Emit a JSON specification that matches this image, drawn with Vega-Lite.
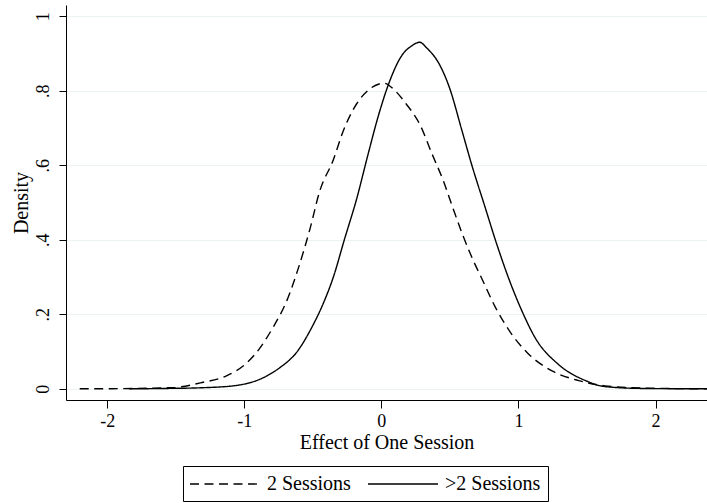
{
  "$schema": "https://vega.github.io/schema/vega-lite/v6.json",
  "width": 641,
  "height": 395,
  "autosize": "none",
  "padding": {"left": 66, "top": 5, "right": 0, "bottom": 103},
  "background": "white",
  "config": {
    "view": {"stroke": null},
    "font": "Liberation Serif"
  },
  "data": {
    "values": [
      {"x": -2.2, "y": 0.0, "s": "2 Sessions"},
      {"x": -1.8, "y": 0.001, "s": "2 Sessions"},
      {"x": -1.5, "y": 0.004, "s": "2 Sessions"},
      {"x": -1.32, "y": 0.016, "s": "2 Sessions"},
      {"x": -1.13, "y": 0.035, "s": "2 Sessions"},
      {"x": -0.98, "y": 0.07, "s": "2 Sessions"},
      {"x": -0.885, "y": 0.11, "s": "2 Sessions"},
      {"x": -0.79, "y": 0.165, "s": "2 Sessions"},
      {"x": -0.69, "y": 0.236, "s": "2 Sessions"},
      {"x": -0.6, "y": 0.33, "s": "2 Sessions"},
      {"x": -0.52, "y": 0.43, "s": "2 Sessions"},
      {"x": -0.45, "y": 0.53, "s": "2 Sessions"},
      {"x": -0.35, "y": 0.615, "s": "2 Sessions"},
      {"x": -0.28, "y": 0.69, "s": "2 Sessions"},
      {"x": -0.18, "y": 0.765, "s": "2 Sessions"},
      {"x": -0.1, "y": 0.80, "s": "2 Sessions"},
      {"x": 0.02, "y": 0.82, "s": "2 Sessions"},
      {"x": 0.1, "y": 0.80, "s": "2 Sessions"},
      {"x": 0.18, "y": 0.765, "s": "2 Sessions"},
      {"x": 0.28, "y": 0.71, "s": "2 Sessions"},
      {"x": 0.37, "y": 0.63, "s": "2 Sessions"},
      {"x": 0.45, "y": 0.56, "s": "2 Sessions"},
      {"x": 0.52, "y": 0.487, "s": "2 Sessions"},
      {"x": 0.59, "y": 0.416, "s": "2 Sessions"},
      {"x": 0.66, "y": 0.353, "s": "2 Sessions"},
      {"x": 0.74, "y": 0.29, "s": "2 Sessions"},
      {"x": 0.83, "y": 0.22, "s": "2 Sessions"},
      {"x": 0.95, "y": 0.147, "s": "2 Sessions"},
      {"x": 1.075, "y": 0.093, "s": "2 Sessions"},
      {"x": 1.245, "y": 0.048, "s": "2 Sessions"},
      {"x": 1.44, "y": 0.022, "s": "2 Sessions"},
      {"x": 1.63, "y": 0.008, "s": "2 Sessions"},
      {"x": 1.9, "y": 0.002, "s": "2 Sessions"},
      {"x": 2.375, "y": 0.0, "s": "2 Sessions"},
      {"x": -1.84, "y": 0.0, "s": ">2 Sessions"},
      {"x": -1.56, "y": 0.001, "s": ">2 Sessions"},
      {"x": -1.3, "y": 0.003, "s": ">2 Sessions"},
      {"x": -1.08, "y": 0.008, "s": ">2 Sessions"},
      {"x": -0.86, "y": 0.03, "s": ">2 Sessions"},
      {"x": -0.74, "y": 0.057, "s": ">2 Sessions"},
      {"x": -0.62, "y": 0.097, "s": ">2 Sessions"},
      {"x": -0.5, "y": 0.17, "s": ">2 Sessions"},
      {"x": -0.425, "y": 0.228, "s": ">2 Sessions"},
      {"x": -0.35, "y": 0.3, "s": ">2 Sessions"},
      {"x": -0.27, "y": 0.40, "s": ">2 Sessions"},
      {"x": -0.18, "y": 0.51, "s": ">2 Sessions"},
      {"x": -0.1, "y": 0.625, "s": ">2 Sessions"},
      {"x": -0.02, "y": 0.735, "s": ">2 Sessions"},
      {"x": 0.06, "y": 0.825, "s": ">2 Sessions"},
      {"x": 0.15, "y": 0.895, "s": ">2 Sessions"},
      {"x": 0.22, "y": 0.92, "s": ">2 Sessions"},
      {"x": 0.28, "y": 0.93, "s": ">2 Sessions"},
      {"x": 0.33, "y": 0.915, "s": ">2 Sessions"},
      {"x": 0.42, "y": 0.873, "s": ">2 Sessions"},
      {"x": 0.495, "y": 0.81, "s": ">2 Sessions"},
      {"x": 0.59, "y": 0.69, "s": ">2 Sessions"},
      {"x": 0.66, "y": 0.60, "s": ">2 Sessions"},
      {"x": 0.75, "y": 0.495, "s": ">2 Sessions"},
      {"x": 0.84, "y": 0.39, "s": ">2 Sessions"},
      {"x": 0.93, "y": 0.295, "s": ">2 Sessions"},
      {"x": 1.03, "y": 0.205, "s": ">2 Sessions"},
      {"x": 1.12, "y": 0.138, "s": ">2 Sessions"},
      {"x": 1.29, "y": 0.066, "s": ">2 Sessions"},
      {"x": 1.49, "y": 0.022, "s": ">2 Sessions"},
      {"x": 1.63, "y": 0.006, "s": ">2 Sessions"},
      {"x": 1.9, "y": 0.001, "s": ">2 Sessions"},
      {"x": 2.375, "y": 0.0, "s": ">2 Sessions"}
    ]
  },
  "mark": {"type": "line", "color": "black", "strokeWidth": 1.4, "interpolate": "monotone", "clip": true},
  "encoding": {
    "x": {
      "field": "x", "type": "quantitative",
      "scale": {"domain": [-2.3, 2.375], "nice": false, "zero": false},
      "axis": {
        "title": "Effect of One Session",
        "values": [-2, -1, 0, 1, 2],
        "labelExpr": "'' + datum.value",
        "grid": false,
        "domainColor": "black", "tickColor": "black",
        "tickSize": 8, "labelPadding": 4,
        "labelFontSize": 18, "labelColor": "black",
        "titleFontSize": 20, "titleFontWeight": "normal", "titleColor": "black",
        "titlePadding": 2
      }
    },
    "y": {
      "field": "y", "type": "quantitative",
      "scale": {"domain": [-0.03, 1.03], "nice": false, "zero": false},
      "axis": {
        "title": "Density",
        "values": [0, 0.2, 0.4, 0.6, 0.8, 1],
        "labelExpr": "datum.value == 0 ? '0' : datum.value == 1 ? '1' : '.' + round(datum.value * 10)",
        "labelAngle": -90, "labelAlign": "center", "labelBaseline": "middle",
        "labelPadding": 16,
        "grid": true, "gridColor": "#eaf2f3", "gridWidth": 1.2,
        "domainColor": "black", "tickColor": "black",
        "tickSize": 7,
        "labelFontSize": 18, "labelColor": "black",
        "titleFontSize": 20, "titleFontWeight": "normal", "titleColor": "black",
        "titlePadding": 3
      }
    },
    "strokeDash": {
      "field": "s", "type": "nominal",
      "scale": {"domain": ["2 Sessions", ">2 Sessions"], "range": [[9, 5.5], [1, 0]]},
      "legend": {
        "title": null,
        "orient": "none",
        "direction": "horizontal",
        "legendX": 117,
        "legendY": 461,
        "strokeColor": "black",
        "padding": 7,
        "symbolType": "M-3.5,0H3.5",
        "symbolSize": 400,
        "symbolOffset": 24,
        "symbolStrokeWidth": 1.3,
        "symbolStrokeColor": "black",
        "labelFontSize": 20,
        "labelColor": "black",
        "labelOffset": 31,
        "labelLimit": 0,
        "columnPadding": 14
      }
    }
  }
}
